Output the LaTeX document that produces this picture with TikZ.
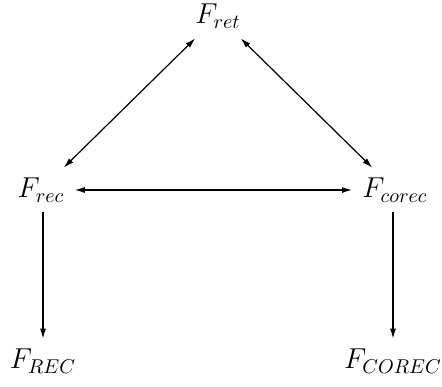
\documentclass[tikz,border=0pt]{standalone}
\usetikzlibrary{arrows.meta}
\begin{document}
\begin{tikzpicture}[x=0.5pt,y=-0.5pt,
  obj/.style={inner sep=5pt,font=\fontsize{14.4}{17}\selectfont},
  arr/.style={line width=0.6pt,-{Latex[length=5pt,width=3pt]}},
  darr/.style={line width=0.6pt,{Latex[length=5pt,width=3pt]}-{Latex[length=5pt,width=3pt]}}]
\useasboundingbox (0,0) rectangle (442,386);
\node[obj] (ret) at (218,16) {$F_{ret}$};
\node[obj] (rec) at (41,190) {$F_{rec}$};
\node[obj] (corec) at (395,190) {$F_{corec}$};
\node[obj] (REC) at (43,361) {$F_{REC}$};
\node[obj] (COREC) at (393,361) {$F_{COREC}$};
\draw[darr] (rec) -- (ret);
\draw[darr] (ret) -- (corec);
\draw[darr] (rec) -- (corec);
\draw[arr] (REC.north |- rec.south) -- (REC.north);
\draw[arr] (COREC.north |- corec.south) -- (COREC.north);
\end{tikzpicture}
\end{document}
